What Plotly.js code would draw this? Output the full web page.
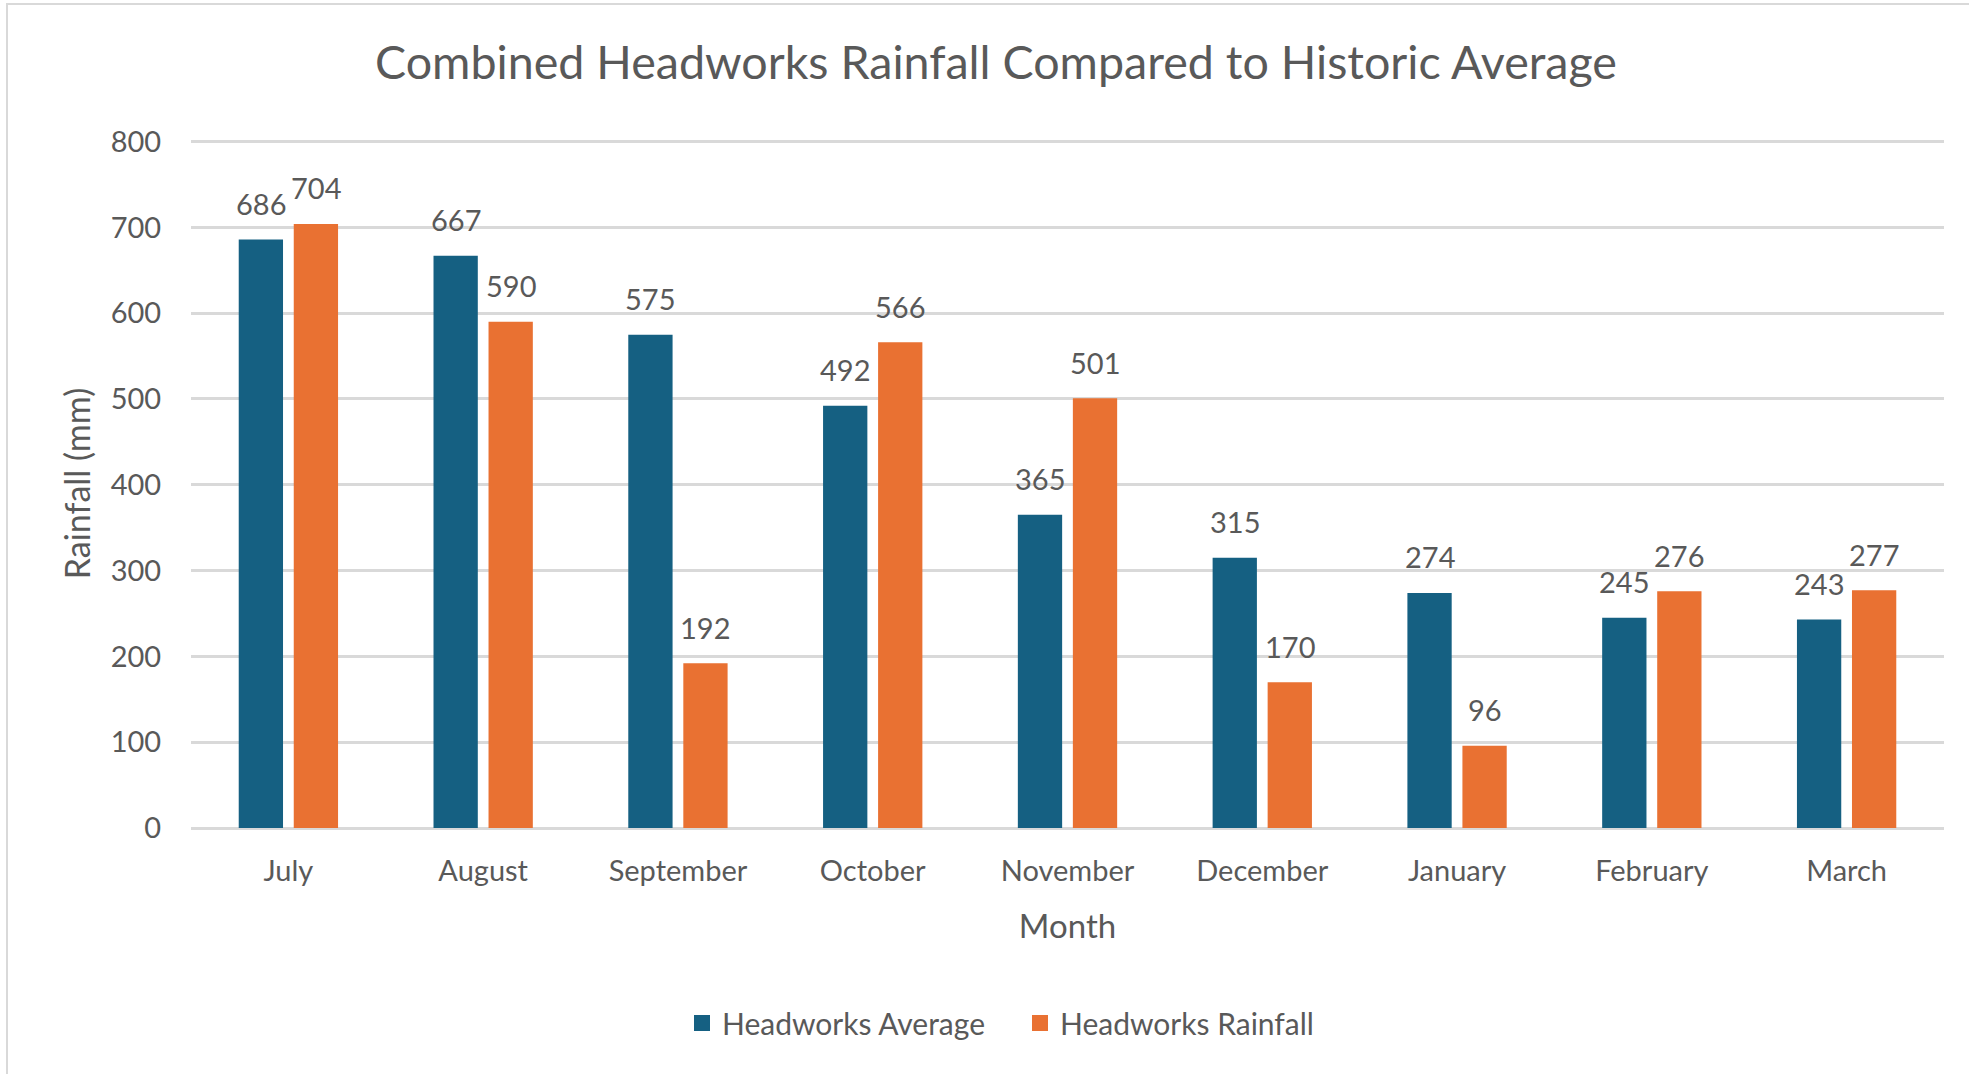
<!DOCTYPE html>
<html>
<head>
<meta charset="utf-8">
<script src="https://cdn.plot.ly/plotly-3.0.1.min.js"></script>
<style>
  html, body { margin: 0; padding: 0; background: #ffffff; }
  #wrap { position: relative; width: 1969px; height: 1074px; overflow: hidden; }
  #chart { position: absolute; left: 0; top: 0; width: 1969px; height: 1074px; }
  #frame { position: absolute; left: 6px; top: 3px; width: 2000px; height: 1100px;
           border-left: 2.5px solid #d9d9d9; border-top: 2.5px solid #d9d9d9; pointer-events: none; }
</style>
</head>
<body>
<div id="wrap">
  <div id="chart"></div>
  <div id="frame"></div>
</div>
<script>
const months = ["July", "August", "September", "October", "November", "December", "January", "February", "March"];
const headworksAverage = [686, 667, 575, 492, 365, 315, 274, 245, 243];
const headworksRainfall = [704, 590, 192, 566, 501, 170, 96, 276, 277];
const yTicks = [0, 100, 200, 300, 400, 500, 600, 700, 800];

const BLUE = "#156082";
const ORANGE = "#E97132";
const TEXT = "#595959";
const FONT = "Lato, 'Open Sans', sans-serif";

const traces = [
  {
    type: "bar", name: "Headworks Average", x: months, y: headworksAverage,
    marker: { color: BLUE }, hoverinfo: "x+y+name", showlegend: false, legendgroup: "avg"
  },
  {
    type: "bar", name: "Headworks Rainfall", x: months, y: headworksRainfall,
    marker: { color: ORANGE }, hoverinfo: "x+y+name", showlegend: false, legendgroup: "rain"
  },
  {
    type: "scatter", mode: "markers", name: "Headworks Average", x: [null], y: [null],
    marker: { color: BLUE, symbol: "square", size: 18 }, legendgroup: "avg", hoverinfo: "skip"
  },
  {
    type: "scatter", mode: "markers", name: "Headworks Rainfall", x: [null], y: [null],
    marker: { color: ORANGE, symbol: "square", size: 18 }, legendgroup: "rain", hoverinfo: "skip"
  }
];

const annotations = [];
months.forEach((m, i) => {
  annotations.push({ x: m, y: headworksAverage[i], xref: "x", yref: "y", text: String(headworksAverage[i]),
    showarrow: false, xshift: -27.5, yshift: 36, yanchor: "middle", font: { family: FONT, size: 29, color: TEXT } });
  annotations.push({ x: m, y: headworksRainfall[i], xref: "x", yref: "y", text: String(headworksRainfall[i]),
    showarrow: false, xshift: 27.5, yshift: 36, yanchor: "middle", font: { family: FONT, size: 29, color: TEXT } });
});

const layout = {
  width: 1969, height: 1074,
  paper_bgcolor: "rgba(0,0,0,0)", plot_bgcolor: "rgba(0,0,0,0)",
  margin: { l: 191, r: 25, t: 139.1, b: 245.5, pad: 0 },
  font: { family: FONT, color: TEXT },
  title: {
    text: "Combined Headworks Rainfall Compared to Historic Average",
    font: { family: FONT, size: 46.6, color: TEXT },
    xref: "container", yref: "container", x: 996 / 1969, y: 1 - 63 / 1074,
    xanchor: "center", yanchor: "middle"
  },
  barmode: "group", bargap: 0.435, bargroupgap: 0.195,
  xaxis: {
    type: "category", categoryarray: months, showgrid: false, showline: false, zeroline: false,
    ticks: "outside", ticklen: 17, tickcolor: "rgba(0,0,0,0)",
    tickfont: { family: FONT, size: 29, color: TEXT },
    title: { text: "Month", font: { family: FONT, size: 33, color: TEXT }, standoff: 28.5 },
    automargin: false, fixedrange: true
  },
  yaxis: {
    range: [0, 803], tickvals: yTicks, ticktext: yTicks.map(String),
    showgrid: true, gridcolor: "#d9d9d9", gridwidth: 2.5,
    zeroline: true, zerolinecolor: "#d9d9d9", zerolinewidth: 2.5, showline: false,
    ticks: "outside", ticklen: 23, tickcolor: "rgba(0,0,0,0)",
    tickfont: { family: FONT, size: 29, color: TEXT },
    title: { text: "Rainfall (mm)", font: { family: FONT, size: 34, color: TEXT }, standoff: 9 },
    automargin: false, fixedrange: true
  },
  showlegend: true,
  legend: {
    orientation: "h", xref: "container", yref: "container",
    x: 682 / 1969, xanchor: "left", y: 1 - 1023 / 1074, yanchor: "middle",
    entrywidth: 293,
    font: { family: FONT, size: 30, color: TEXT }, bgcolor: "rgba(0,0,0,0)",
    itemclick: false, itemdoubleclick: false
  },
  annotations: annotations
};

Plotly.newPlot("chart", traces, layout, { displayModeBar: false });
</script>
</body>
</html>
